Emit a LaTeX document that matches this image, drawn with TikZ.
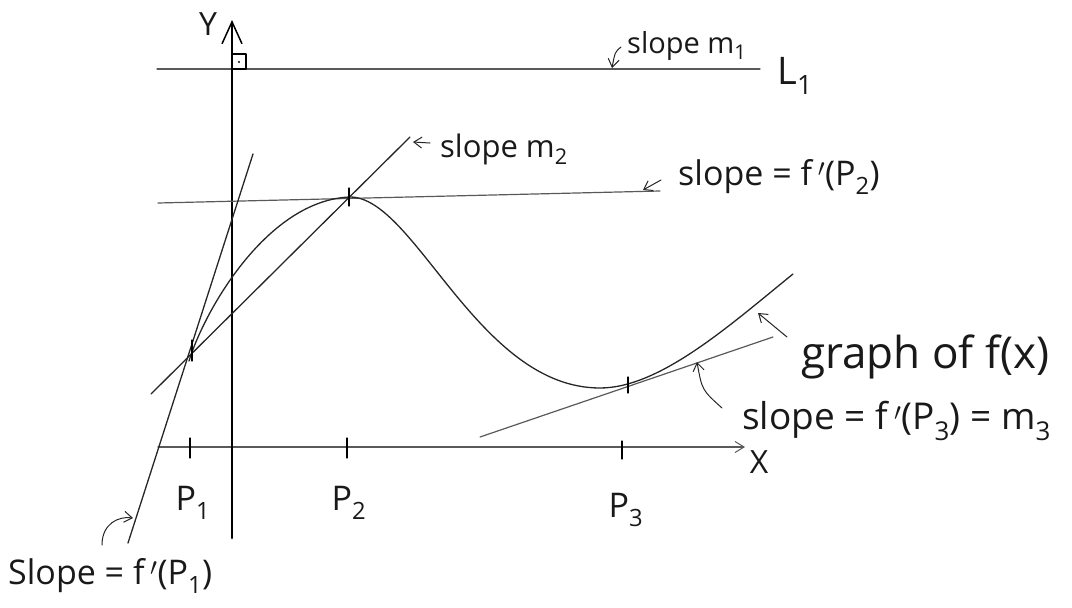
\documentclass[tikz,border=0pt]{standalone}
\usepackage{fontspec}
\setmainfont{Open Sans}
\usetikzlibrary{arrows.meta}
\begin{document}
\begin{tikzpicture}[x=1pt,y=-1pt,line cap=round,line join=round,
  inkline/.style={line width=1.3pt,draw=black!85},
  grayline/.style={line width=1.2pt,draw=black!65},
  axisY/.style={line width=2.6pt,draw=black,-{Straight Barb[length=22pt,width=20pt,line width=1.5pt]}},
  axisX/.style={line width=1.2pt,draw=black!65,-{Straight Barb[length=9pt,width=11pt,line width=1pt]}},
  ptr/.style={line width=1pt,draw=black!85,-{Straight Barb[length=8pt,width=11pt,line width=1pt]}},
  tickmark/.style={line width=1.3pt,draw=black},
  lbl/.style={inner sep=0pt,text=black!90}]
\useasboundingbox (0,0) rectangle (1072,608);

% ---- coordinates
\coordinate (Ybot) at (232,538); \coordinate (Ytop) at (232,20);
\coordinate (Xl) at (158,447);   \coordinate (Xr) at (745,447);
\coordinate (L1a) at (157,69);   \coordinate (L1b) at (760,69);
\coordinate (H2a) at (158,203);  \coordinate (H2b) at (660,191);
\coordinate (M2a) at (151,394);  \coordinate (M2b) at (410,137);
\coordinate (T1a) at (253,154);  \coordinate (T1b) at (128,543);
\coordinate (T3a) at (480,437);  \coordinate (T3b) at (773,337);
\coordinate (C0) at (189,361);   \coordinate (Cpk) at (350,197);
\coordinate (Cmin) at (600,388); \coordinate (Cend) at (793,274);

% ---- axes
\draw[grayline] (L1a) -- (L1b);
\draw[axisX] (Xl) -- (Xr);
\draw[axisY] (Ybot) -- (Ytop);
\draw[line width=1.1pt] (232,54) rectangle (246,69);
\fill (239,62) circle (1.1pt);

% ---- tangent lines
\draw[grayline] (H2a) -- (H2b);
\draw[inkline] (M2a) -- (M2b);
\draw[inkline] (T1a) -- (T1b);
\draw[grayline] (T3a) -- (T3b);

% ---- graph of f
\draw[inkline] (C0) .. controls (205,309) and (268,200) .. (Cpk)
  .. controls (415,197) and (478,388) .. (Cmin)
  .. controls (660,388) and (730,325) .. (Cend);

% ---- ticks
\draw[tickmark] (190,438) -- (190,458);
\draw[tickmark] (347,438) -- (347,458);
\draw[tickmark] (622,441) -- (622,459);
\draw[tickmark] (192,340) -- (192,361);
\draw[tickmark] (349,188) -- (349,206);
\draw[tickmark] (628,377) -- (628,393);

% ---- labels
\node[lbl,font=\fontsize{32}{34}\selectfont] (ylab) at (208,24) {Y};
\node[lbl,font=\fontsize{32}{34}\selectfont] (xlab) at (759,462) {X};
\node[lbl,font=\fontsize{34}{36}\selectfont] (p1) at (193,503) {P\textsubscript{1}};
\node[lbl,font=\fontsize{34}{36}\selectfont] (p2) at (349,503) {P\textsubscript{2}};
\node[lbl,font=\fontsize{34}{36}\selectfont] (p3) at (626,510) {P\textsubscript{3}};
\node[lbl,font=\fontsize{38}{40}\selectfont] (l1) at (795,76) {L\textsubscript{1}};

\node[lbl,anchor=west,font=\fontsize{29}{31}\selectfont] (sm1) at (627,46) {slope m\textsubscript{1}};
\node[lbl,anchor=west,font=\fontsize{31}{33}\selectfont] (sm2) at (440,149) {slope m\textsubscript{2}};
\node[lbl,anchor=west,font=\fontsize{34}{36}\selectfont] (sp2) at (678,177) {slope = f\,$'$(P\textsubscript{2})};
\node[lbl,anchor=west,font=\fontsize{44}{46}\selectfont] (gf) at (801,357) {graph of f(x)};
\node[lbl,anchor=west,font=\fontsize{37}{39}\selectfont] (sp3) at (742,421) {slope = f\,$'$(P\textsubscript{3}) = m\textsubscript{3}};
\node[lbl,anchor=west,font=\fontsize{34}{36}\selectfont] (sp1) at (8,576) {Slope = f\,$'$(P\textsubscript{1})};

% ---- pointers
\coordinate (a1t) at (621,47);  \coordinate (a1h) at (612,68);
\draw[ptr] (a1t) .. controls (615,52) .. (a1h);
\coordinate (a2t) at (430,143); \coordinate (a2h) at (413,142);
\draw[ptr] (a2t) -- (a2h);
\coordinate (a3t) at (661,180); \coordinate (a3h) at (643,190);
\draw[ptr] (a3t) -- (a3h);
\coordinate (a4t) at (787,337); \coordinate (a4h) at (758,313);
\draw[ptr] (a4t) -- (a4h);
\coordinate (a5t) at (722,408); \coordinate (a5h) at (697,362);
\draw[ptr] (a5t) .. controls (702,390) .. (a5h);
\coordinate (a6t) at (102,545); \coordinate (a6h) at (133,518);
\draw[ptr] (a6t) .. controls (102,524) and (118,516) .. (a6h);
\end{tikzpicture}
\end{document}
